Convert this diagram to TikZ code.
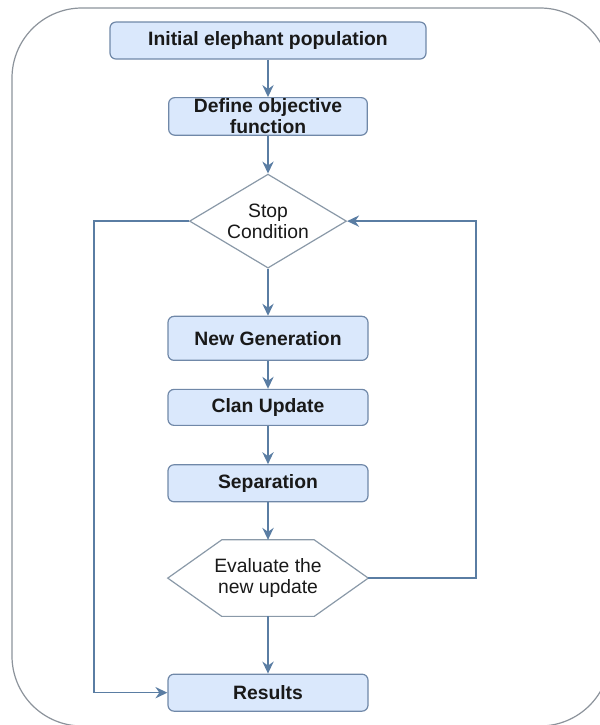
\documentclass[tikz,border=0pt]{standalone}
\usepackage{fontspec}
\setmainfont{Liberation Sans}
\usetikzlibrary{arrows.meta, shapes}

\definecolor{boxfill}{HTML}{DAE8FC}
\definecolor{boxline}{HTML}{7088A8}
\definecolor{flowline}{HTML}{5A7DA3}
\definecolor{shapeline}{HTML}{8A99A8}
\definecolor{frameline}{HTML}{8C939B}

\begin{document}
\begin{tikzpicture}[->,>={Stealth[length=9pt,width=8.5pt,inset=3pt]},shorten >=0pt,auto,
		flow/.style={draw=flowline, line width=1.1pt},
		proc/.style={rectangle, rounded corners=4.5pt, draw=boxline, fill=boxfill,
			line width=0.9pt, minimum width=150pt, minimum height=27.75pt, inner sep=1pt,
			align=center, text=black!90, font=\fontsize{14.5}{15.5}\selectfont\bfseries},
		decision/.style={diamond, aspect=1.67, draw=shapeline, fill=white, line width=0.9pt,
			inner sep=0pt, minimum width=117.75pt, minimum height=70.5pt,
			align=center, text=black!90, font=\fontsize{14.5}{16}\selectfont},
		check/.style={rectangle, inner sep=0pt, minimum width=150pt, minimum height=57pt,
			align=center, text=black!90, font=\fontsize{14.5}{16}\selectfont}]

		\useasboundingbox (0,0) rectangle (450pt,-543.75pt);
		\draw[-, frameline, line width=0.9pt, rounded corners=52.5pt]
			(9pt,-6pt) rectangle (457.5pt,-544.5pt);

		\node[proc, minimum width=237pt] (init) at (201pt,-30.4pt) {Initial elephant population};
		\node[proc, minimum width=149pt] (objfun) [below of=init, node distance=2cm] {Define objective\\function};
		\node[decision] (stop) [below of=objfun, node distance=2.76cm] {Stop\\Condition};
		\node[proc, minimum height=33pt] (newgen) [below of=stop, node distance=3.09cm] {New Generation};
		\node[proc, minimum height=27pt] (clan) [below of=newgen, node distance=1.82cm] {Clan Update};
		\node[proc] (sep) [below of=clan, node distance=2cm] {Separation};
		\node[check] (eval) [below of=sep, node distance=2.5cm] {Evaluate the\\new update};
		\node[proc] (results) [below of=eval, node distance=3.02cm] {Results};

		% hexagon round the evaluation step
		\draw[-, shapeline, line width=0.9pt] (eval.west) -- ([xshift=40.5pt]eval.north west)
			-- ([xshift=-40.5pt]eval.north east) -- (eval.east)
			-- ([xshift=-40.5pt]eval.south east) -- ([xshift=40.5pt]eval.south west) -- cycle;

		\coordinate (lft) at (70.5pt,0);
		\coordinate (rgt) at (357pt,0);

		\path (init) edge[flow] (objfun);
		\path (objfun) edge[flow] (stop);
		\path (stop) edge[flow] (newgen);
		\path (newgen) edge[flow] (clan);
		\path (clan) edge[flow] (sep);
		\path (sep) edge[flow] (eval);
		\path (eval) edge[flow] (results);

		\draw[flow] (stop.west) -- (stop.west -| lft) |- (results.west);
		\draw[flow] (eval.east) -- (eval.east -| rgt) |- (stop.east);

	\end{tikzpicture}
\end{document}
